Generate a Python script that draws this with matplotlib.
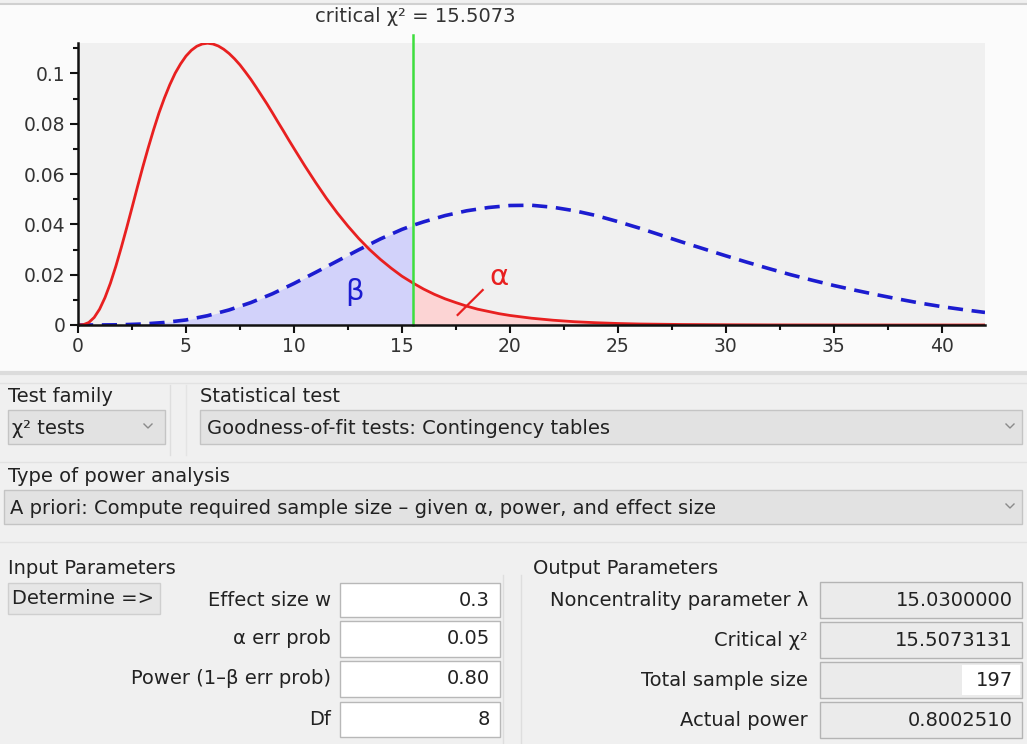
import numpy as np
import matplotlib
matplotlib.use("Agg")
import matplotlib.pyplot as plt
from matplotlib.patches import Rectangle

plt.rcParams['font.family'] = ['DejaVu Sans']

# ----------------------------
# Data
# ----------------------------
crit = 15.5073

# central chi-square (H0), red solid
red_x = [0, 0.25, 0.5, 0.75, 1, 1.25, 1.5, 1.75, 2, 2.25, 2.5, 2.75, 3, 3.25,
         3.5, 3.75, 4, 4.25, 4.5, 4.75, 5, 5.25, 5.5, 5.75, 6, 6.25, 6.5, 6.75,
         7, 7.25, 7.5, 7.75, 8, 8.25, 8.5, 8.75, 9, 9.25, 9.5, 9.75, 10, 10.5,
         11, 11.5, 12, 12.5, 13, 13.5, 14, 14.5, 15, crit, 16, 16.5, 17, 17.5,
         18, 18.5, 19, 19.5, 20, 21, 22, 23, 24, 25, 26, 27, 28, 30, 32, 35,
         38, 42]
red_y = [0, 0.00014, 0.0010, 0.0030, 0.0063, 0.0109, 0.0166, 0.0233, 0.0307,
         0.0385, 0.0466, 0.0548, 0.0628, 0.0704, 0.0776, 0.0843, 0.0902, 0.0955,
         0.1001, 0.1038, 0.1069, 0.1092, 0.1108, 0.1117, 0.1120, 0.1117, 0.1109,
         0.1096, 0.1079, 0.1058, 0.1034, 0.1006, 0.0977, 0.0945, 0.0912, 0.0879,
         0.0844, 0.0808, 0.0773, 0.0737, 0.0702, 0.0633, 0.0567, 0.0504, 0.0446,
         0.0393, 0.0344, 0.0300, 0.0261, 0.0226, 0.0194, 0.0167, 0.0143, 0.0122,
         0.0104, 0.0089, 0.0075, 0.0063, 0.0054, 0.0045, 0.0038, 0.0027, 0.0019,
         0.0013, 0.0009, 0.0006, 0.0004, 0.0003, 0.0002, 0.0001, 0.00004,
         0.00001, 0.0, 0.0]

# noncentral chi-square (H1), blue dashed
blue_x = [0, 1, 2, 3, 4, 5, 6, 7, 8, 9, 10, 11, 12, 13, 14, 15, crit, 16, 17,
          18, 19, 20, 21, 22, 23, 24, 25, 26, 27, 28, 29, 30, 31, 32, 33, 34,
          35, 36, 37, 38, 39, 40, 41, 42]
blue_y = [0, 0.00001, 0.0001, 0.0004, 0.0010, 0.0020, 0.0037, 0.0060, 0.0089,
          0.0124, 0.0165, 0.0209, 0.0254, 0.0299, 0.0342, 0.0380, 0.0396, 0.0410,
          0.0435, 0.0454, 0.0467, 0.0475, 0.0476, 0.0468, 0.0454, 0.0435, 0.0411,
          0.0385, 0.0357, 0.0329, 0.0302, 0.0275, 0.0249, 0.0224, 0.0200, 0.0178,
          0.0157, 0.0138, 0.0120, 0.0103, 0.0087, 0.0073, 0.0061, 0.0050]

x_ticks = [0, 5, 10, 15, 20, 25, 30, 35, 40]
y_ticks = [0, 0.02, 0.04, 0.06, 0.08, 0.1]
y_labels = ["0", "0.02", "0.04", "0.06", "0.08", "0.1"]

title_text = "critical χ² = 15.5073"

# dialog texts
test_family = "χ² tests"
stat_test = "Goodness-of-fit tests: Contingency tables"
power_type = "A priori: Compute required sample size – given α, power, and effect size"
in_labels = ["Effect size w", "α err prob", "Power (1–β err prob)", "Df"]
in_values = ["0.3", "0.05", "0.80", "8"]
out_labels = ["Noncentrality parameter λ", "Critical χ²", "Total sample size", "Actual power"]
out_values = ["15.0300000", "15.5073131", "197", "0.8002510"]

W, H = 1027, 744
fig = plt.figure(figsize=(W / 100, H / 100), dpi=100)
fig.patch.set_facecolor('#f0f0f0')

# overlay in pixel coordinates for the dialog parts
ui = fig.add_axes([0, 0, 1, 1])
ui.set_xlim(0, W)
ui.set_ylim(H, 0)
ui.axis('off')
ui.set_zorder(0)

ui.add_patch(Rectangle((0, 4), W, 368, facecolor='#fbfbfb', edgecolor='none'))
ui.plot([0, W], [4, 4], color='#d0d0d0', lw=1.5)
ui.plot([0, W], [373, 373], color='#dcdcdc', lw=3)

# ----------------------------
# Chart
# ----------------------------
ax = fig.add_axes([78 / W, 1 - 325 / H, (985 - 78) / W, (325 - 43) / H])
ax.set_zorder(1)
ax.set_facecolor('#f0f0f0')

rx = np.array(red_x)
ry = np.array(red_y)
bx = np.array(blue_x)
by = np.array(blue_y)

ax.fill_between(bx[bx <= crit], by[bx <= crit], color='#d2d2fa', lw=0)
ax.fill_between(rx[rx >= crit], ry[rx >= crit], color='#fcd4d4', lw=0)
ax.plot(bx, by, color='#1c1cd0', lw=2.6, dashes=(4.2, 2.4))
ax.plot(rx, ry, color='#e82020', lw=2.0)
ax.axvline(crit, ymin=0, ymax=1.03, color='#3ede3e', lw=1.8, clip_on=False)

ax.text(12.8, 0.0131, "β", color='#1c1cd0', fontsize=21, ha='center', va='center')
ax.text(19.5, 0.0192, "α", color='#e82020', fontsize=21, ha='center', va='center')
ax.plot([17.58, 18.74], [0.0040, 0.0139], color='#e82020', lw=1.6)

ax.set_xlim(0, 42)
ax.set_ylim(0, 0.1121)
for s in ['top', 'right']:
    ax.spines[s].set_visible(False)
for s in ['left', 'bottom']:
    ax.spines[s].set_linewidth(1.8)
    ax.spines[s].set_color('#111111')

ax.set_xticks(x_ticks)
ax.set_xticks(np.arange(2.5, 42, 5), minor=True)
ax.set_yticks(y_ticks)
ax.set_yticklabels(y_labels)
ax.set_yticks([0.01, 0.03, 0.05, 0.07, 0.09, 0.11], minor=True)
ax.tick_params(axis='both', which='major', length=6, width=1.5, colors='#111111',
               labelcolor='#333333', labelsize=13.5)
ax.tick_params(axis='both', which='minor', length=3.5, width=1.5, colors='#111111')
ax.tick_params(axis='x', which='major', pad=3)
ax.tick_params(axis='y', which='major', pad=3)

fig.text(415 / W, 1 - 17 / H, title_text, ha='center', va='center',
         fontsize=14, color='#333333')

# ----------------------------
# Dialog widgets
# ----------------------------
txt = '#222222'
fs = 14


def box(x0, y0, x1, y1, fc, ec='#c4c4c4'):
    ui.add_patch(Rectangle((x0, y0), x1 - x0, y1 - y0, facecolor=fc,
                           edgecolor=ec, lw=1))


def chevron(xc, yc):
    ui.plot([xc - 4, xc, xc + 4], [yc - 2, yc + 2, yc - 2], color='#8a8a8a', lw=1)


# faint group lines
for yy in [383, 462, 542]:
    ui.plot([0, W], [yy, yy], color='#e2e2e2', lw=1)
ui.plot([170, 170], [385, 455], color='#dedede', lw=1)
ui.plot([186, 186], [385, 455], color='#e4e4e4', lw=1)

ui.text(8, 396, "Test family", fontsize=fs, color=txt, va='center')
ui.text(200, 396, "Statistical test", fontsize=fs, color=txt, va='center')
box(8, 410, 165, 444, '#e2e2e2')
ui.text(12, 428, test_family, fontsize=fs, color=txt, va='center')
chevron(148, 426)
box(200, 410, 1022, 444, '#e2e2e2')
ui.text(207, 428, stat_test, fontsize=fs, color=txt, va='center')
chevron(1010, 426)

ui.text(8, 476, "Type of power analysis", fontsize=fs, color=txt, va='center')
box(4, 490, 1022, 524, '#e2e2e2')
ui.text(10, 508, power_type, fontsize=fs, color=txt, va='center')
chevron(1010, 506)

# input parameters
ui.plot([503, 503], [575, H], color='#dedede', lw=1)
ui.plot([521, 521], [575, H], color='#dedede', lw=1)
ui.text(8, 568, "Input Parameters", fontsize=fs, color=txt, va='center')
box(8, 583, 160, 614, '#e6e6e6', '#cfcfcf')
ui.text(12, 599, "Determine =>", fontsize=fs, color=txt, va='center')

in_rows = [(583, 617), (621, 657), (661, 697), (702, 737)]
for lab, val, (y0, y1) in zip(in_labels, in_values, in_rows):
    box(340, y0, 500, y1, 'white', '#b8b8b8')
    ui.text(331, (y0 + y1) / 2, lab, fontsize=fs, color=txt, ha='right', va='center')
    ui.text(490, (y0 + y1) / 2, val, fontsize=fs, color=txt, ha='right', va='center')

# output parameters
ui.text(533, 568, "Output Parameters", fontsize=fs, color=txt, va='center')
out_rows = [(582, 618), (622, 658), (662, 698), (702, 738)]
for lab, val, (y0, y1) in zip(out_labels, out_values, out_rows):
    box(820, y0, 1022, y1, '#ebebeb', '#b4b4b4')
    if val == "197":
        ui.add_patch(Rectangle((962, y0 + 3), 58, y1 - y0 - 6, facecolor='white',
                               edgecolor='none'))
    ui.text(808, (y0 + y1) / 2, lab, fontsize=fs, color=txt, ha='right', va='center')
    ui.text(1013, (y0 + y1) / 2, val, fontsize=fs, color=txt, ha='right', va='center')

fig.savefig("out.png", dpi=100)
